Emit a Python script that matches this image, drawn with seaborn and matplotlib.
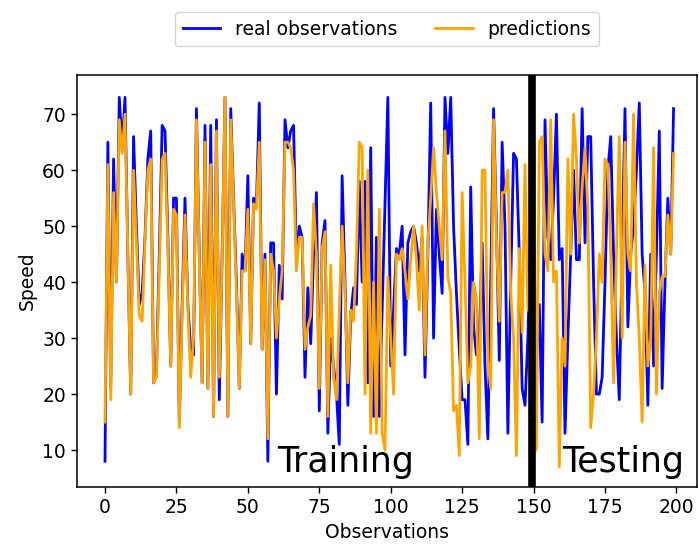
import numpy as np
import pandas as pd
import matplotlib
matplotlib.use("Agg")
import matplotlib.pyplot as plt
import seaborn as sns

real = [8, 65, 21, 62, 40, 73, 64, 73, 45, 20,
        66, 50, 36, 38, 48, 62, 67, 22, 24, 45,
        68, 67, 48, 25, 55, 55, 15, 36, 55, 36,
        28, 27, 71, 45, 22, 68, 21, 68, 16, 69,
        19, 45, 73, 16, 71, 55, 40, 21, 45, 42,
        59, 29, 55, 54, 72, 28, 45, 8, 47, 47,
        20, 43, 37, 69, 64, 67, 68, 44, 50, 48,
        23, 39, 29, 45, 56, 17, 47, 51, 13, 30,
        25, 20, 11, 59, 40, 18, 34, 39, 36, 58,
        40, 58, 22, 64, 16, 48, 16, 35, 54, 73,
        25, 35, 46, 45, 50, 27, 47, 49, 50, 47,
        42, 48, 23, 45, 72, 30, 53, 45, 38, 73,
        63, 73, 50, 38, 28, 19, 19, 11, 57, 32,
        27, 30, 47, 25, 12, 40, 71, 50, 26, 65,
        50, 13, 40, 63, 62, 45, 21, 18, 30, 50,
        32, 27, 36, 15, 69, 48, 44, 55, 70, 44,
        46, 13, 30, 45, 60, 44, 44, 71, 47, 66,
        66, 40, 20, 20, 23, 40, 60, 66, 45, 30,
        19, 45, 71, 32, 45, 50, 60, 72, 45, 38,
        18, 45, 25, 45, 67, 21, 40, 55, 45, 71]

pred = [15, 61, 19, 56, 40, 69, 63, 70, 45, 20,
        60, 47, 34, 33, 47, 60, 62, 22, 23, 42,
        62, 63, 46, 25, 53, 52, 14, 34, 52, 35,
        23, 30, 69, 44, 22, 65, 21, 61, 16, 67,
        23, 44, 73, 16, 69, 54, 38, 21, 42, 42,
        53, 29, 54, 53, 65, 28, 44, 12, 45, 42,
        30, 37, 42, 65, 65, 64, 60, 42, 48, 48,
        28, 32, 34, 54, 45, 21, 46, 49, 16, 43,
        23, 19, 35, 50, 38, 22, 35, 33, 45, 65,
        64, 20, 60, 13, 40, 13, 53, 13, 10, 41,
        30, 20, 45, 44, 46, 42, 37, 44, 50, 44,
        35, 50, 27, 47, 55, 64, 56, 50, 44, 67,
        41, 38, 17, 18, 9, 56, 40, 22, 25, 40,
        37, 12, 60, 60, 26, 21, 69, 48, 33, 56,
        56, 60, 38, 30, 9, 46, 31, 61, 35, 40,
        66, 10, 65, 66, 45, 42, 69, 40, 42, 7,
        30, 25, 62, 45, 70, 62, 47, 57, 64, 53,
        14, 20, 30, 45, 40, 62, 61, 45, 22, 45,
        66, 30, 65, 45, 42, 70, 40, 30, 15, 43,
        25, 30, 64, 20, 38, 41, 41, 52, 45, 63]

obs = np.arange(len(real))
split_at = 149.3
xticks = [0, 25, 50, 75, 100, 125, 150, 175, 200]
yticks = [10, 20, 30, 40, 50, 60, 70]

df = pd.DataFrame({"Observations": obs, "real": real, "pred": pred})

fs = 13.5
fig = plt.figure(figsize=(6.99, 5.47), dpi=100)
ax = fig.add_axes([77 / 699, 1 - 487 / 547, 620 / 699, 412 / 547])

sns.lineplot(data=df, x="Observations", y="real", ax=ax, color="blue",
             linewidth=2, label="real observations")
sns.lineplot(data=df, x="Observations", y="pred", ax=ax, color="orange",
             linewidth=2, label="predictions")
ax.axvline(split_at, color="black", linewidth=5.5)

ax.text(60.2, 6.0, "Training", fontsize=25)
ax.text(160, 6.0, "Testing", fontsize=25)

ax.set_xlim(-9.8, 207.2)
ax.set_ylim(3.4, 77)
ax.set_xticks(xticks)
ax.set_yticks(yticks)
ax.set_xlabel("Observations", fontsize=fs)
ax.set_ylabel("Speed", fontsize=fs)
ax.tick_params(labelsize=fs, length=4.5, width=1)
for s in ax.spines.values():
    s.set_linewidth(1.1)

ax.legend(loc="upper center", bbox_to_anchor=(0.5, 1.0 - 3 / 547),
          bbox_transform=fig.transFigure,
          ncol=2, fontsize=fs, columnspacing=2, handlelength=2)
# center legend over the axes
leg = ax.get_legend()
leg.set_bbox_to_anchor(((77 + 697) / 2 / 699, 1.0 - 3 / 547), transform=fig.transFigure)

fig.savefig("out.png", dpi=100)
